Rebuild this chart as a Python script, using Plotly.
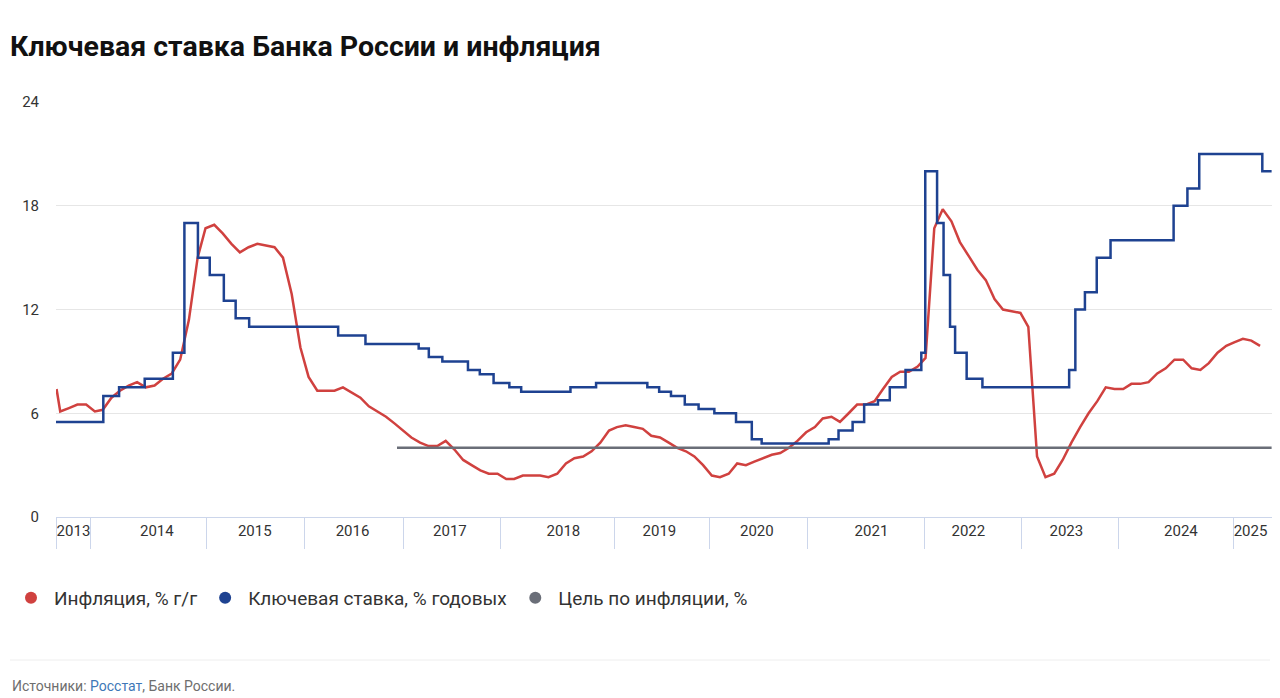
import pandas as pd
import plotly.graph_objects as go

# Инфляция, % г/г (значение месяца ставится на начало следующего месяца)
infl_head_dates = ['2013-09-18', '2013-09-24']
infl_head_values = [7.4, 6.9]
infl_values = [
    6.1, 6.3, 6.5, 6.5,                                                # 2013 (сен-дек)
    6.1, 6.2, 6.9, 7.3, 7.6, 7.8, 7.5, 7.6, 8.0, 8.3, 9.1, 11.4,       # 2014
    15.0, 16.7, 16.9, 16.4, 15.8, 15.3, 15.6, 15.8, 15.7, 15.6, 15.0, 12.9,  # 2015
    9.8, 8.1, 7.3, 7.3, 7.3, 7.5, 7.2, 6.9, 6.4, 6.1, 5.8, 5.4,        # 2016
    5.0, 4.6, 4.3, 4.1, 4.1, 4.4, 3.9, 3.3, 3.0, 2.7, 2.5, 2.5,        # 2017
    2.2, 2.2, 2.4, 2.4, 2.4, 2.3, 2.5, 3.1, 3.4, 3.5, 3.8, 4.3,        # 2018
    5.0, 5.2, 5.3, 5.2, 5.1, 4.7, 4.6, 4.3, 4.0, 3.8, 3.5, 3.0,        # 2019
    2.4, 2.3, 2.5, 3.1, 3.0, 3.2, 3.4, 3.6, 3.7, 4.0, 4.4, 4.9,        # 2020
    5.2, 5.7, 5.8, 5.5, 6.0, 6.5, 6.5, 6.7, 7.4, 8.1, 8.4, 8.4,        # 2021
    8.7, 9.2, 16.7, 17.8, 17.1, 15.9, 15.1, 14.3, 13.7, 12.6, 12.0, 11.9,  # 2022
    11.8, 11.0, 3.5, 2.3, 2.5, 3.3, 4.3, 5.2, 6.0, 6.7, 7.5, 7.4,      # 2023
    7.4, 7.7, 7.7, 7.8, 8.3, 8.6, 9.1, 9.1, 8.6, 8.5, 8.9, 9.5,        # 2024
    9.9, 10.1, 10.3, 10.2, 9.9,                                        # 2025 (янв-май)
]
infl_dates = pd.date_range('2013-10-01', periods=len(infl_values), freq='MS')

# Ключевая ставка, % годовых (даты решений)
rate_dates = [
    '2013-09-13', '2014-03-03', '2014-04-28', '2014-07-28', '2014-11-05', '2014-12-16',
    '2015-02-02', '2015-03-16', '2015-05-05', '2015-06-16', '2015-08-03', '2016-06-14',
    '2016-09-19', '2017-03-27', '2017-05-02', '2017-06-19', '2017-09-18', '2017-10-30',
    '2017-12-18', '2018-02-12', '2018-03-26', '2018-09-17', '2018-12-17', '2019-06-17',
    '2019-07-29', '2019-09-09', '2019-10-28', '2019-12-16', '2020-02-10', '2020-04-27',
    '2020-06-22', '2020-07-27', '2021-03-22', '2021-04-26', '2021-06-15', '2021-07-26',
    '2021-09-13', '2021-10-25', '2021-12-20', '2022-02-14', '2022-02-28', '2022-04-11',
    '2022-05-04', '2022-05-27', '2022-06-14', '2022-07-25', '2022-09-19', '2023-07-24',
    '2023-08-15', '2023-09-18', '2023-10-30', '2023-12-18', '2024-07-29', '2024-09-16',
    '2024-10-28', '2025-06-09', '2025-07-12',
]
rate_values = [
    5.5, 7.0, 7.5, 8.0, 9.5, 17.0,
    15.0, 14.0, 12.5, 11.5, 11.0, 10.5,
    10.0, 9.75, 9.25, 9.0, 8.5, 8.25,
    7.75, 7.5, 7.25, 7.5, 7.75, 7.5,
    7.25, 7.0, 6.5, 6.25, 6.0, 5.5,
    4.5, 4.25, 4.5, 5.0, 5.5, 6.5,
    6.75, 7.5, 8.5, 9.5, 20.0, 17.0,
    14.0, 11.0, 9.5, 8.0, 7.5, 8.5,
    12.0, 13.0, 15.0, 16.0, 18.0, 19.0,
    21.0, 20.0, 20.0,
]

# Цель по инфляции, %
target_dates = ['2017-01-09', '2025-07-12']
target_values = [4, 4]

# Подписи годов и границы между ними на оси X
year_labels = ['2013', '2014', '2015', '2016', '2017', '2018', '2019',
               '2020', '2021', '2022', '2023', '2024', '2025']
year_label_dates = ['2013-11-17', '2014-09-09', '2015-08-23', '2016-08-04', '2017-07-16',
                    '2018-08-23', '2019-07-30', '2020-07-10', '2021-08-21', '2022-07-31',
                    '2023-07-14', '2024-08-24', '2025-04-28']
year_sep_dates = ['2013-09-17', '2014-01-18', '2015-03-06', '2016-02-17', '2017-02-02',
                  '2018-01-10', '2019-02-22', '2020-01-25', '2021-01-07', '2022-02-27',
                  '2023-02-03', '2024-01-17', '2025-02-28', '2025-07-19']

x_range = ['2013-09-16', '2025-07-20 12:00']

RED = '#d0413f'
BLUE = '#1e4291'
GRAY = '#6a6e78'

# страница открывается с отступом 8px, поэтому всё смещено на 8px
W, H = 1280, 698
L, T, R, B = 48, 94, 14, 189
PW, PH = W - L - R, H - T - B

fig = go.Figure()

fig.add_trace(go.Scatter(x=list(pd.to_datetime(infl_head_dates)) + list(infl_dates),
                         y=infl_head_values + infl_values,
                         mode='lines', line=dict(color=RED, width=2.5),
                         name='Инфляция, % г/г', showlegend=False))
fig.add_trace(go.Scatter(x=rate_dates, y=rate_values, mode='lines',
                         line=dict(color=BLUE, width=2.5, shape='hv'),
                         name='Ключевая ставка, % годовых', showlegend=False))
fig.add_trace(go.Scatter(x=target_dates, y=target_values, mode='lines', xaxis='x2',
                         line=dict(color=GRAY, width=2.5),
                         name='Цель по инфляции, %', showlegend=False))

# точки для легенды
for name, color in [('Инфляция, % г/г', RED),
                    ('Ключевая ставка, % годовых', BLUE),
                    ('Цель по инфляции, %', GRAY)]:
    fig.add_trace(go.Scatter(x=[None], y=[None], mode='markers', name=name,
                             marker=dict(color=color, size=14)))

fig.update_layout(
    width=W, height=H,
    margin=dict(l=L, r=R, t=T, b=B),
    paper_bgcolor='white', plot_bgcolor='white',
    font=dict(family='Roboto', color='#333333'),
    title=dict(text='<b>Ключевая ставка Банка России и инфляция</b>',
               x=2 / W, xanchor='left', xref='container',
               y=1 - 38 / H, yanchor='middle', yref='container',
               font=dict(size=28.5, color='#111111')),
    xaxis=dict(type='date', range=x_range, tickmode='array',
               tickvals=year_label_dates, ticktext=year_labels,
               ticks='', showgrid=False, zeroline=False,
               showline=True, linecolor='#ccd6eb', linewidth=1,
               tickfont=dict(size=15, color='#333333')),
    xaxis2=dict(type='date', range=x_range, overlaying='x', anchor='y', side='bottom',
                tickmode='array', tickvals=year_sep_dates, showticklabels=False,
                ticks='outside', ticklen=31, tickcolor='#ccd6eb', tickwidth=1,
                showgrid=False, zeroline=False, showline=False),
    yaxis=dict(range=[0, 24], tickmode='array', tickvals=[0, 6, 12, 18, 24],
               showgrid=True, gridcolor='#e6e6e6', gridwidth=1, zeroline=False,
               ticks='', ticklabelstandoff=16,
               tickfont=dict(size=15, color='#333333')),
    legend=dict(orientation='h', xref='container', yref='container',
                x=0, xanchor='left', y=1 - 590 / H, yanchor='middle',
                font=dict(size=19, color='#333333'), itemsizing='constant',
                itemwidth=36),
    showlegend=True,
)

# разделитель и источник
fig.add_shape(type='line', xref='paper', yref='paper',
              x0=(2 - L) / PW, x1=(1262 - L) / PW,
              y0=-(652 - (T + PH)) / PH, y1=-(652 - (T + PH)) / PH,
              line=dict(color='#eeeeee', width=1))
fig.add_annotation(xref='paper', yref='paper', x=(2 - L) / PW, y=-(678 - (T + PH)) / PH,
                   xanchor='left', yanchor='middle', showarrow=False,
                   text='Источники: <span style="color:#3e78b7">Росстат</span>, Банк России.',
                   font=dict(size=14, color='#6e6e6e'))

fig.write_html('out.html')
